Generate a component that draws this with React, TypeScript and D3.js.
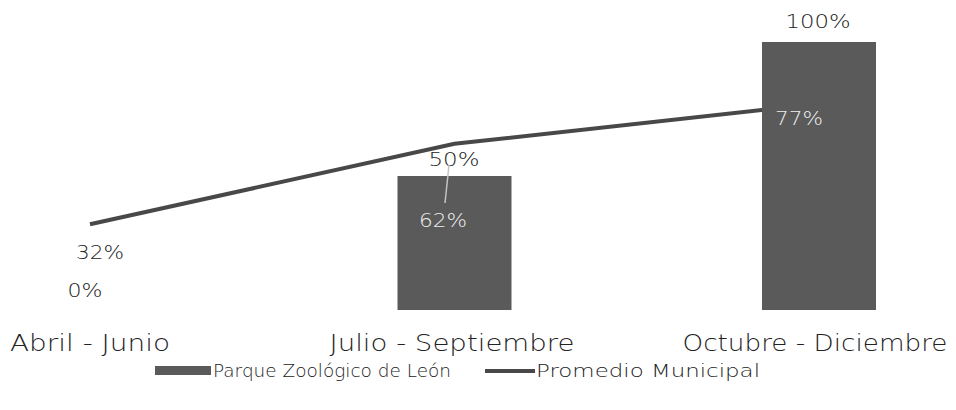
import * as d3 from "d3";

const categories = ["Abril - Junio", "Julio - Septiembre", "Octubre - Diciembre"];
const zooValues = [0, 50, 100];
const municipalValues = [32, 62, 77];
const seriesNames = ["Parque Zoológico de León", "Promedio Municipal"];

const W = 956;
const H = 410;
const font = "'DejaVu Sans', sans-serif";
const textColor = "#222";
const barColor = "#5a5a5a";
const lineColor = "#484848";

// approximate rendered widths of the labels in the reference
const catWidths = [160, 245, 265];
const catCenters = [90, 452, 815];

export default function App() {
  const x = d3.scalePoint<string>().domain(categories).range([90, 819]);
  const y = d3.scaleLinear().domain([0, 100]).range([310, 42]);
  const barW = 114;

  const line = d3
    .line<number>()
    .x((_, i) => x(categories[i]) ?? 0)
    .y((d) => y(d));

  const label = (
    txt: string,
    cx: number,
    cy: number,
    w: number,
    fill = textColor,
    size = 20
  ) => (
    <text
      x={cx}
      y={cy}
      textAnchor="middle"
      fontSize={size}
      fontWeight={300}
      fill={fill}
      textLength={w}
      lengthAdjust="spacingAndGlyphs"
    >
      {txt}
    </text>
  );

  return (
    <svg
      width={W}
      height={H}
      style={{ position: "absolute", left: 0, top: 0, background: "#fff" }}
      fontFamily={font}
    >
      <path d={line(municipalValues) ?? ""} fill="none" stroke={lineColor} strokeWidth={4} />
      {zooValues.map((v, i) => (
        <rect
          key={categories[i]}
          x={(x(categories[i]) ?? 0) - barW / 2}
          y={y(v)}
          width={barW}
          height={y(0) - y(v)}
          fill={barColor}
        />
      ))}
      {/* bar labels */}
      {label(`${zooValues[0]}%`, 85, 297, 35)}
      {label(`${zooValues[1]}%`, 454, y(zooValues[1]) - 10, 51)}
      {label(`${zooValues[2]}%`, 818, y(zooValues[2]) - 14, 65)}
      {/* line labels */}
      <line x1={449} y1={165} x2={445} y2={203} stroke="#c4c4c4" strokeWidth={1.5} />
      {label(`${municipalValues[0]}%`, 100, y(municipalValues[0]) + 35, 48)}
      {label(`${municipalValues[1]}%`, 443, y(municipalValues[1]) + 83, 48, "#eeeeee")}
      {label(`${municipalValues[2]}%`, 799, y(municipalValues[2]) + 21, 48, "#eeeeee")}
      {/* category labels */}
      {categories.map((c, i) => (
        <g key={c}>{label(c, catCenters[i], 351, catWidths[i], textColor, 23)}</g>
      ))}
      {/* legend */}
      <rect x={155} y={366} width={56} height={9} fill={barColor} />
      <text
        x={213}
        y={377}
        fontSize={17}
        fontWeight={300}
        fill={textColor}
        textLength={238}
        lengthAdjust="spacingAndGlyphs"
      >
        {seriesNames[0]}
      </text>
      <line x1={485} y1={371} x2={535} y2={371} stroke={lineColor} strokeWidth={4} />
      <text
        x={536}
        y={377}
        fontSize={17}
        fontWeight={300}
        fill={textColor}
        textLength={224}
        lengthAdjust="spacingAndGlyphs"
      >
        {seriesNames[1]}
      </text>
    </svg>
  );
}
